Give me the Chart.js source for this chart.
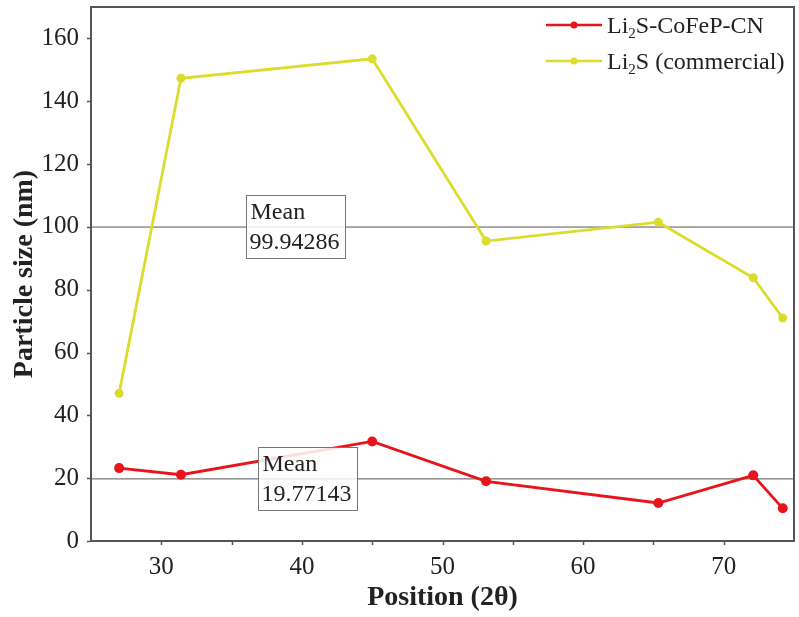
<!DOCTYPE html>
<html>
<head>
<meta charset="utf-8">
<script src="https://cdn.jsdelivr.net/npm/chart.js@4.4.1/dist/chart.umd.min.js"></script>
<style>
  html, body { margin: 0; padding: 0; background: #fff; }
  #wrap { width: 799px; height: 617px; }
</style>
</head>
<body>
<div id="wrap"><canvas id="sizeChart"></canvas></div>
<script>
// 2-theta peak positions and crystallite sizes
var positions = [27.0, 31.4, 45.0, 53.1, 65.35, 72.1, 74.2];
var sizeCoFeP = [23.2, 21.1, 31.7, 19.0, 12.1, 20.9, 10.4];
var sizeCommercial = [47.0, 147.3, 153.5, 95.5, 101.5, 83.8, 71.0];
var meanCoFeP = 19.77143;
var meanCommercial = 99.94286;
var xTicks = [30, 40, 50, 60, 70];
var yTicks = [0, 20, 40, 60, 80, 100, 120, 140, 160];

var RED = '#e8141c';
var YELLOW = '#dcdc2c';
var AXIS = '#555555';
var SERIF = '"Liberation Serif", "Times New Roman", serif';

function pts(ys) {
  return positions.map(function (x, i) { return { x: x, y: ys[i] }; });
}
function meanLine(v) {
  return [{ x: 25, y: v }, { x: 75, y: v }];
}

// ticks (major + minor on x) drawn outward from the frame
var tickMarks = {
  id: 'tickMarks',
  afterDraw: function (chart) {
    var c = chart.ctx, a = chart.chartArea;
    var xs = chart.scales.x, ys = chart.scales.y;
    c.save();
    c.strokeStyle = AXIS;
    c.lineWidth = 1.5;
    c.beginPath();
    for (var v = 30; v <= 70; v += 5) {
      var px = Math.round(xs.getPixelForValue(v)) + 0.5;
      c.moveTo(px, a.bottom + 1);
      c.lineTo(px, a.bottom + 4);
    }
    yTicks.forEach(function (t) {
      var py = Math.round(ys.getPixelForValue(t)) + 0.5;
      c.moveTo(a.left - 1, py);
      c.lineTo(a.left - 4, py);
    });
    c.stroke();
    // frame top and right
    c.lineWidth = 2;
    c.beginPath();
    c.moveTo(a.left, a.top);
    c.lineTo(a.right, a.top);
    c.lineTo(a.right, a.bottom);
    c.stroke();
    c.restore();
  }
};

// "Mean" boxes sitting on the mean lines
var meanBoxes = {
  id: 'meanBoxes',
  afterDatasetsDraw: function (chart) {
    var c = chart.ctx;
    var xs = chart.scales.x, ys = chart.scales.y;
    var boxes = [
      { x: 36.05, v: meanCommercial, text: String(meanCommercial) },
      { x: 36.9, v: meanCoFeP, text: String(meanCoFeP) }
    ];
    c.save();
    boxes.forEach(function (b) {
      var left = Math.round(xs.getPixelForValue(b.x)) + 0.5;
      var cy = ys.getPixelForValue(b.v);
      var w = 99, h = 63, top = Math.round(cy - 32) + 0.5;
      c.fillStyle = 'rgba(255,255,255,0.85)';
      c.fillRect(left, top, w, h);
      c.strokeStyle = '#777';
      c.lineWidth = 1;
      c.strokeRect(left, top, w, h);
      c.fillStyle = '#222';
      c.font = '24px ' + SERIF;
      c.textBaseline = 'middle';
      c.textAlign = 'left';
      c.fillText('Mean', left + 4, top + 17);
      c.fillText(b.text, left + 3, top + 47);
    });
    c.restore();
  }
};

// legend with line + dot samples and subscripted formula
var lineLegend = {
  id: 'lineLegend',
  afterDraw: function (chart) {
    var c = chart.ctx;
    var items = [
      { color: RED, parts: ['Li', '2', 'S-CoFeP-CN'], y: 25 },
      { color: YELLOW, parts: ['Li', '2', 'S (commercial)'], y: 61 }
    ];
    c.save();
    items.forEach(function (it) {
      c.strokeStyle = it.color;
      c.lineWidth = 2.5;
      c.beginPath();
      c.moveTo(546, it.y);
      c.lineTo(602, it.y);
      c.stroke();
      c.fillStyle = it.color;
      c.beginPath();
      c.arc(574, it.y, 3.5, 0, Math.PI * 2);
      c.fill();
      c.fillStyle = '#222';
      c.textBaseline = 'alphabetic';
      c.textAlign = 'left';
      var x = 607, base = it.y + 8;
      c.font = '24px ' + SERIF;
      c.fillText(it.parts[0], x, base);
      x += c.measureText(it.parts[0]).width;
      c.font = '15px ' + SERIF;
      c.fillText(it.parts[1], x, base + 5);
      x += c.measureText(it.parts[1]).width;
      c.font = '24px ' + SERIF;
      c.fillText(it.parts[2], x, base);
    });
    c.restore();
  }
};

var ctx = document.getElementById('sizeChart').getContext('2d');
var sizeChart = new Chart(ctx, {
  type: 'line',
  data: {
    datasets: [
      {
        label: 'Li2S-CoFeP-CN',
        data: pts(sizeCoFeP),
        borderColor: RED,
        backgroundColor: RED,
        borderWidth: 2.8,
        pointRadius: 5,
        pointBorderWidth: 0,
        order: 1
      },
      {
        label: 'Li2S (commercial)',
        data: pts(sizeCommercial),
        borderColor: YELLOW,
        backgroundColor: YELLOW,
        borderWidth: 2.8,
        pointRadius: 4.5,
        pointBorderWidth: 0,
        order: 1
      },
      {
        label: 'mean commercial',
        data: meanLine(meanCommercial),
        borderColor: AXIS,
        borderWidth: 1,
        pointRadius: 0,
        order: 2
      },
      {
        label: 'mean CoFeP',
        data: meanLine(meanCoFeP),
        borderColor: AXIS,
        borderWidth: 1,
        pointRadius: 0,
        order: 2
      }
    ]
  },
  options: {
    responsive: true,
    maintainAspectRatio: false,
    animation: false,
    layout: { padding: { top: 7, right: 3, left: 0, bottom: 0 } },
    plugins: {
      legend: { display: false },
      tooltip: { enabled: false }
    },
    scales: {
      x: {
        type: 'linear',
        min: 25,
        max: 75,
        afterBuildTicks: function (s) { s.ticks = xTicks.map(function (v) { return { value: v }; }); },
        afterFit: function (s) { s.height = 76; s.paddingLeft = 0; s.paddingRight = 0; },
        grid: { display: false },
        border: { display: true, color: AXIS, width: 2 },
        ticks: {
          color: '#222',
          padding: 3,
          font: { family: SERIF, size: 25 }
        },
        title: {
          display: true,
          text: 'Position (2\u03b8)',
          color: '#222',
          padding: { top: 0, bottom: 2 },
          font: { family: SERIF, size: 28, weight: 'bold' }
        }
      },
      y: {
        min: 0,
        max: 170,
        afterBuildTicks: function (s) { s.ticks = yTicks.map(function (v) { return { value: v }; }); },
        afterFit: function (s) { s.width = 91; s.paddingTop = 0; s.paddingBottom = 0; },
        grid: { display: false },
        border: { display: true, color: AXIS, width: 2 },
        ticks: {
          color: '#222',
          padding: 4,
          font: { family: SERIF, size: 25 }
        },
        title: {
          display: true,
          text: 'Particle size (nm)',
          color: '#222',
          padding: { top: 8, bottom: 0 },
          font: { family: SERIF, size: 28, weight: 'bold' }
        }
      }
    }
  },
  plugins: [tickMarks, meanBoxes, lineLegend]
});
</script>
</body>
</html>
